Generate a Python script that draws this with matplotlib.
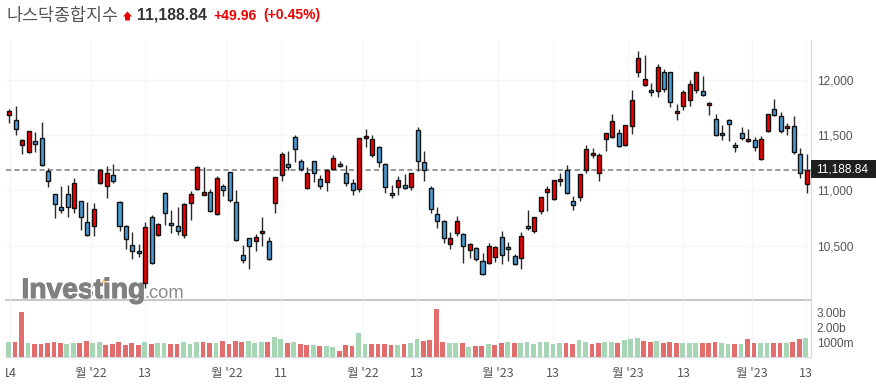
import matplotlib
matplotlib.use("Agg")
import matplotlib.pyplot as plt
from matplotlib.patches import Rectangle, Polygon
from matplotlib.transforms import Bbox
import matplotlib.patheffects as pe

# ---- data ----
highs = [11740,11765,11463,11541,11526,11617,11206,10964,11037,11046,11109,10907,10892,10883,11191,11218,11236,10901,10683,10620,10511,10711,10774,10702,10982,10819,10847,10883,10992,11218,11209,11010,11127,11055,11164,11001,10502,10566,10602,10756,10575,11118,11351,11354,11499,11281,11209,11263,11136,11191,11318,11263,11227,11100,11472,11553,11499,11399,11245,11046,11127,11146,11155,11571,11354,11037,10847,10729,10620,10765,10611,10520,10484,10430,10520,10493,10629,10529,10421,10620,10819,10756,10943,11037,11091,11155,11227,10946,11145,11408,11381,11335,11516,11689,11553,11589,11906,12259,12223,11969,12142,12096,12069,11779,11906,11997,12069,12033,11797,11689,11589,11643,11435,11571,11553,11480,11489,11692,11824,11707,11607,11670,11381,11326]
body_tops = [11716,11635,11454,11535,11445,11472,11173,10964,10847,10964,11064,10901,10711,10828,11182,11155,11136,10892,10674,10502,10448,10665,10756,10693,10973,10702,10674,10874,10964,11209,10982,10982,11109,11037,11164,10892,10412,10566,10575,10629,10539,11118,11327,11236,11481,11263,11155,11263,11100,11182,11290,11236,11155,11064,11472,11490,11463,11390,11236,10973,11091,11046,11155,11544,11254,11019,10783,10720,10566,10720,10602,10511,10475,10357,10493,10484,10575,10484,10403,10584,10674,10756,10937,11010,11091,11100,11182,10901,11145,11371,11335,11317,11516,11625,11516,11589,11815,12196,12006,11906,12114,12069,12069,11716,11888,11960,12069,11897,11788,11643,11516,11634,11408,11516,11462,11453,11462,11689,11734,11670,11580,11580,11326,11188.84]
body_bottoms = [11686,11559,11408,11345,11423,11227,11082,10880,10819,10847,10838,10756,10593,10674,11064,11037,11082,10674,10557,10448,10430,10158,10339,10593,10792,10683,10629,10593,10883,11010,10961,10810,10783,11001,10910,10548,10366,10493,10539,10611,10375,10883,11136,11209,11372,11191,11019,11155,11037,11073,11191,11218,11064,11001,11010,11472,11318,11254,11028,10955,11028,11019,11028,11263,11182,10828,10720,10566,10511,10611,10493,10457,10375,10240,10339,10394,10412,10466,10330,10384,10656,10629,10810,10982,10919,11082,10973,10865,10937,11181,11317,11154,11462,11480,11399,11408,11580,12069,11951,11888,11897,11915,11797,11698,11761,11815,11906,11861,11770,11498,11498,11598,11390,11471,11444,11390,11281,11535,11679,11535,11562,11344,11154,11054]
lows = [11608,11505,11327,11342,11351,11224,11034,10747,10798,10756,10792,10638,10590,10590,11055,10928,11064,10629,10466,10375,10394,10113,10333,10587,10683,10611,10593,10566,10729,11004,10955,10801,10780,10946,10892,10539,10339,10285,10448,10493,10366,10792,11082,11182,11254,11173,11016,11073,11010,10992,11185,11212,11037,10955,10982,11390,11306,11209,10973,10928,10955,11010,11001,11173,11082,10792,10656,10520,10466,10584,10339,10384,10357,10231,10330,10348,10330,10357,10324,10285,10638,10611,10783,10810,10913,11040,10964,10819,10900,11154,11290,11082,11353,11471,11396,11402,11507,12024,11945,11852,11843,11894,11752,11634,11725,11761,11879,11858,11679,11495,11453,11444,11344,11453,11438,11359,11278,11525,11670,11516,11498,11326,11109,10980]
candle_is_red = [1,0,1,1,0,0,0,0,0,0,1,0,0,1,1,1,0,0,0,0,0,1,0,1,0,0,0,1,1,1,1,0,1,0,0,0,0,0,1,1,0,1,1,0,0,0,1,0,0,1,1,0,0,0,1,1,1,0,0,0,1,0,1,0,0,0,0,0,1,1,0,1,0,0,1,1,0,0,0,1,0,1,1,1,1,1,0,0,1,1,1,1,1,1,0,1,1,1,1,0,1,0,0,1,1,1,1,0,1,0,0,0,0,0,1,0,1,1,0,0,1,0,0,1]

volumes_b = [0.99,0.99,3.00,0.92,0.85,0.85,0.92,0.99,0.92,0.85,0.92,0.92,1.05,0.92,0.99,0.78,0.85,0.99,0.78,0.92,0.78,0.99,0.85,0.92,0.92,0.85,0.85,0.99,0.85,0.99,0.99,0.92,0.92,1.05,0.85,1.05,0.99,1.05,0.92,0.99,0.99,1.32,1.19,0.92,0.99,0.85,0.78,0.78,0.72,0.72,0.65,0.38,0.78,0.72,1.59,0.85,0.85,0.85,0.85,0.78,0.78,0.85,0.92,1.19,1.05,1.12,3.21,0.99,0.92,0.92,0.92,0.65,0.72,0.72,0.85,0.78,0.92,0.99,0.92,0.92,0.99,0.85,0.99,0.99,0.85,0.92,0.92,0.85,1.12,0.99,0.85,0.92,0.99,0.99,0.92,1.12,1.19,1.26,1.05,0.99,1.05,0.92,0.99,0.92,0.92,0.92,0.92,0.92,0.92,0.99,0.92,0.85,0.85,0.85,1.19,0.92,0.92,0.92,0.92,0.92,0.92,0.99,1.19,1.26]
volume_is_green = [1,0,0,1,0,0,0,0,0,1,1,0,0,1,1,0,0,0,0,0,0,1,0,1,1,0,0,1,1,1,0,0,1,0,0,0,0,1,1,1,0,1,1,0,1,0,0,1,0,1,1,0,0,0,1,1,0,0,0,0,1,0,1,1,0,0,0,0,1,1,0,1,0,0,1,0,0,1,0,1,1,1,1,1,1,1,0,0,1,1,0,0,1,1,0,1,1,1,0,0,1,0,0,0,1,1,1,0,0,0,1,1,0,1,0,0,1,1,0,0,1,0,0,1]

price_ticks = [12000, 11500, 11000, 10500]
price_tick_labels = ["12,000", "11,500", "11,000", "10,500"]
volume_ticks = [3.0, 2.0, 1.0]
volume_tick_labels = ["3.00b", "2.00b", "1000m"]
date_tick_pos = [0.06, 12.55, 20.93, 33.53, 41.9, 54.5, 62.9, 75.4, 83.9, 95.5, 104, 114.5, 122.9]
date_tick_labels = ["14", "월 '22", "13", "월 '22", "11", "월 '22", "13", "월 '23", "13", "월 '23", "13", "월 '23", "13"]
last_price = 11188.84

W, H = 876, 388
L, R = 6, 810.5
KR = ["Noto Sans CJK KR", "DejaVu Sans"]
SANS = ["Liberation Sans", "Noto Sans CJK KR"]
plt.rcParams["font.family"] = SANS

fig = plt.figure(figsize=(W / 100, H / 100), dpi=100, facecolor="white")

def axes_px(x0, y0, x1, y1):
    return fig.add_axes([x0 / W, 1 - y1 / H, (x1 - x0) / W, (y1 - y0) / H])

ax = axes_px(L, 40, R, 299.5)
vx = axes_px(L, 299.5, R, 357)
n = len(highs)
xlim = (-0.51, 123.6)
grid_c = "#f5f6f8"
for a in (ax, vx):
    a.set_xlim(*xlim)
    a.set_facecolor("white")
    for s in a.spines.values():
        s.set_visible(False)
    a.set_xticks(date_tick_pos)
    a.grid(True, axis="x", color=grid_c, lw=1)
    a.set_axisbelow(True)
    a.tick_params(length=0)
ax.set_ylim(10012, 12362)
vx.set_ylim(0, 57.5 / 14.85)

# candles
body_w = 0.62
for i in range(n):
    c = "#ee0000" if candle_is_red[i] else "#4a9ad4"
    ax.plot([i, i], [lows[i], highs[i]], color="#2a2a2a", lw=1, solid_capstyle="butt", zorder=3)
    ax.add_patch(Rectangle((i - body_w / 2, body_bottoms[i]), body_w,
                           body_tops[i] - body_bottoms[i], facecolor=c,
                           edgecolor="#111111", lw=1, zorder=4))

ax.set_yticks(price_ticks)
ax.grid(True, axis="y", color=grid_c, lw=1)
ax.yaxis.tick_right()
ax.set_yticklabels(price_tick_labels, color="#555555", fontsize=8.6)
ax.tick_params(axis="y", pad=4.5, length=0)
ax.set_xticklabels([])
ax.axhline(last_price, color="#999999", lw=1.4, ls=(0, (2.7, 1.6)), zorder=2)
ax.set_zorder(3)
ax.patch.set_alpha(0)

# volume
vc = ["#a6d6b3" if g else "#e26d6d" for g in volume_is_green]
vx.bar([i - 0.12 for i in range(n)], volumes_b, width=0.74, color=vc, zorder=3)
vx.set_yticks(volume_ticks)
vx.yaxis.tick_right()
vx.set_yticklabels(volume_tick_labels, color="#555555", fontsize=8.6)
vx.tick_params(axis="y", pad=4.5, length=0)
vx.set_xticklabels(date_tick_labels, fontsize=9, color="#555555", family=KR)
vx.tick_params(axis="x", pad=7, length=0)
clip = Bbox([[L, 0], [R, H]])
for lab in vx.get_xticklabels():
    lab.set_clip_box(clip)
    lab.set_clip_on(True)
for side, col, lw in (("bottom", "#d8dce4", 1), ("top", "#c8c8cc", 1.5), ("right", "#d8dce4", 1)):
    vx.spines[side].set_visible(True)
    vx.spines[side].set_color(col)
    vx.spines[side].set_linewidth(lw)
ax.spines["right"].set_visible(True)
ax.spines["right"].set_color("#d8dce4")

# last price flag
fig.add_artist(Rectangle((R / W, 1 - 178 / H), (W - R) / W, 18 / H, transform=fig.transFigure,
                         facecolor="#1f1f1f", edgecolor="none", zorder=5))
fig.text(816.5 / W, 1 - 169 / H, f"{last_price:,.2f}", color="white", fontsize=8.6,
         ha="left", va="center", zorder=6)

# header
def t(x, y, s, **kw):
    kw.setdefault("va", "center")
    fig.text(x / W, 1 - y / H, s, ha="left", **kw)

t(7, 15.5, "나스닥종합지수", fontsize=12.5, color="#555555", family=KR)
fig.add_artist(Polygon([(x / W, 1 - y / H) for x, y in
                        [(127.5, 11.5), (132, 16.5), (130, 16.5), (130, 20.5), (125, 20.5), (125, 16.5), (123, 16.5)]],
                       closed=True, transform=fig.transFigure, facecolor="#ee0000", edgecolor="none"))
t(137, 15.5, "11,188.84", fontsize=11.3, fontweight="bold", color="#333333")
t(213, 15.5, "+49.96", fontsize=10, fontweight="bold", color="#ee0000")
t(263, 15.5, "(+0.45%)", fontsize=10, fontweight="bold", color="#ee0000")

# watermark
t(21.5, 298, "Investing", fontsize=20.3, fontweight="bold", color="#808080", va="baseline", zorder=1,
  path_effects=[pe.withStroke(linewidth=0.8, foreground="#808080")])
t(144.5, 298, ".com", fontsize=13.2, color="#8c8c8c", va="baseline", zorder=1)
fig.add_artist(Polygon([(x / W, 1 - y / H) for x, y in
                        [(102.5, 279.5), (107.5, 277.5), (107, 283), (102, 283)]],
                       closed=True, transform=fig.transFigure, facecolor="#fbd38a",
                       edgecolor="none", zorder=1))

fig.savefig("out.png", dpi=100)
